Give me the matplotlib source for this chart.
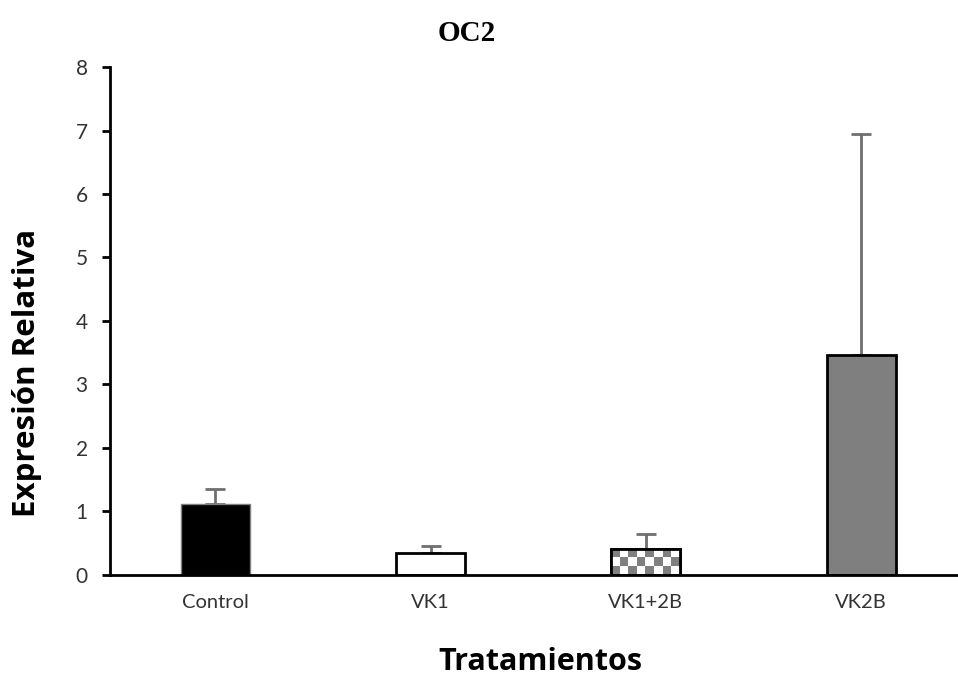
import numpy as np
import matplotlib.pyplot as plt

# --- Datos ---
tratamientos = ["Control", "VK1", "VK1+2B", "VK2B"]
expresion = [1.12, 0.35, 0.41, 3.46]
error_sup = [0.23, 0.11, 0.24, 3.49]

colores = ["#000000", "#ffffff", "#ffffff", "#7f7f7f"]
bordes = ["#7f7f7f", "#000000", "#000000", "#000000"]
grosor = [1, 2, 2, 2]

fig = plt.figure(figsize=(9.58, 6.81), dpi=100)
ax = fig.add_axes([0.1148, 0.1557, 0.8852, 0.7459])

x = np.arange(len(tratamientos))
barras = ax.bar(x, expresion, width=0.32, color=colores, edgecolor=bordes,
                linewidth=grosor, zorder=2)

# Relleno a cuadros para VK1+2B
b = barras[2]
x0, y0 = b.get_x(), b.get_y()
w, h = b.get_width(), b.get_height()
cuadros = (np.indices((3, 8)).sum(axis=0) % 2).astype(float)
img = ax.imshow(cuadros, cmap="gray", vmin=-1, vmax=1.0, aspect="auto",
                extent=(x0, x0 + w, y0, y0 + h), origin="lower",
                interpolation="nearest", zorder=2.5)
img.set_clip_path(b)
ax.bar(x[2], expresion[2], width=0.32, color="none", edgecolor="black",
       linewidth=2, zorder=3)

ax.errorbar(x, expresion, yerr=[np.zeros(len(x)), error_sup], fmt="none",
            ecolor="#6f6f6f", elinewidth=2, capsize=7, capthick=2, zorder=1)

ax.set_xlim(-0.49, 3.45)
ax.set_ylim(0, 8)
ax.set_yticks(range(0, 9))
ax.set_xticks(x)
ax.set_xticklabels(tratamientos)

for s in ["top", "right"]:
    ax.spines[s].set_visible(False)
ax.spines["left"].set_linewidth(2)
ax.spines["bottom"].set_linewidth(2)

ax.tick_params(axis="y", length=6, width=2, pad=10, labelsize=15,
               labelcolor="#333333")
ax.tick_params(axis="x", length=0, pad=14, labelsize=14.5, labelcolor="#333333")
for lbl in ax.get_xticklabels() + ax.get_yticklabels():
    lbl.set_family("Lato")

# Títulos de ejes
fig.text(0.028, 0.452, "Expresión Relativa", rotation=90, ha="center",
         va="center", fontsize=22.5, fontweight="bold", family="Open Sans")
fig.text(0.5637, 0.016, "Tratamientos", ha="center", va="baseline",
         fontsize=22, fontweight="bold", family="Open Sans")
fig.text(0.487, 0.951, "OC2", ha="center", va="center", fontsize=21,
         fontweight="bold", family="Liberation Serif")

fig.savefig("out.png", dpi=100)
